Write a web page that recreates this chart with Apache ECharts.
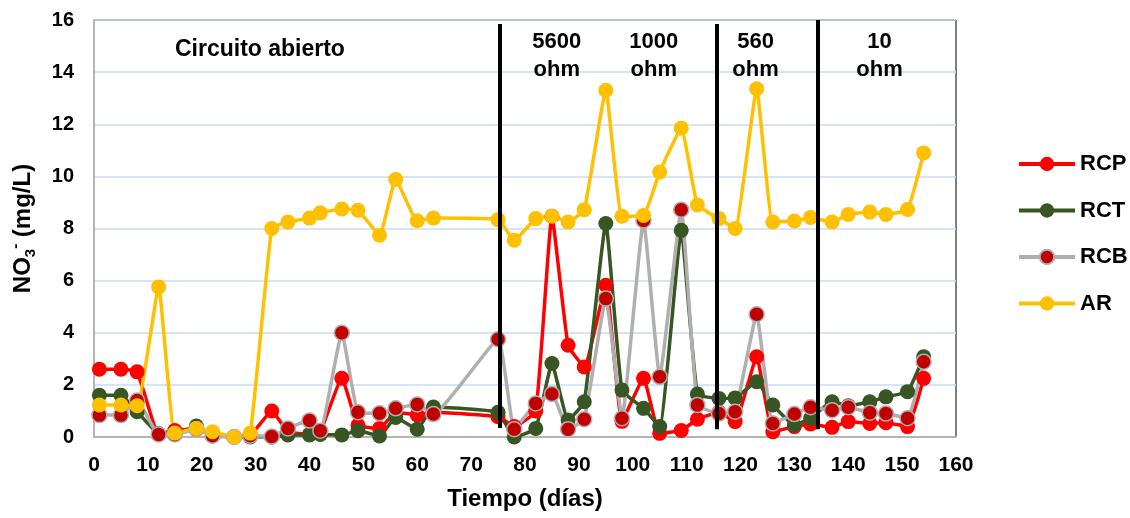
<!DOCTYPE html>
<html>
<head>
<meta charset="utf-8">
<script src="https://cdn.jsdelivr.net/npm/echarts@6/dist/echarts.min.js"></script>
<style>
html,body{margin:0;padding:0;background:#fff;}
#c{width:1130px;height:518px;}
</style>
</head>
<body>
<div id="c"></div>
<script>
// Days of sampling
const days = [1,5,8,12,15,19,22,26,29,33,36,40,42,46,49,53,56,60,63,75,78,82,85,88,91,95,98,102,105,109,112,116,119,123,126,130,133,137,140,144,147,151,154];
const RCP = [2.6,2.6,2.5,0.12,0.25,0.3,0.1,0.0,0.05,1.0,0.2,0.1,0.2,2.25,0.45,0.33,0.95,0.85,0.95,0.78,0.4,1.0,8.47,3.52,2.69,5.82,0.6,2.25,0.14,0.25,0.68,0.95,0.59,3.08,0.2,0.4,0.5,0.37,0.59,0.52,0.55,0.4,2.25];
const RCT = [1.6,1.6,0.97,0.12,0.1,0.42,0.05,0.0,0.0,0.0,0.08,0.08,0.1,0.08,0.24,0.04,0.75,0.3,1.15,0.95,0.0,0.33,2.82,0.65,1.35,8.19,1.8,1.1,0.4,7.93,1.65,1.48,1.5,2.12,1.23,0.46,0.72,1.35,1.2,1.35,1.54,1.74,3.08];
const RCB = [0.84,0.84,1.4,0.1,0.1,0.3,0.05,0.0,0.05,0.02,0.33,0.63,0.24,4.0,0.95,0.91,1.1,1.25,0.88,3.75,0.3,1.29,1.65,0.3,0.68,5.31,0.72,8.31,2.31,8.72,1.23,0.9,0.97,4.71,0.52,0.88,1.14,1.03,1.14,0.93,0.9,0.72,2.89];
const AR  = [1.23,1.23,1.2,5.76,0.15,0.33,0.2,0.0,0.15,8.0,8.25,8.4,8.6,8.75,8.7,7.74,9.88,8.3,8.4,8.34,7.55,8.38,8.47,8.25,8.72,13.3,8.47,8.5,10.17,11.85,8.9,8.38,8.0,13.36,8.25,8.29,8.42,8.25,8.54,8.63,8.54,8.73,10.9];
// Phase boundaries (days) and annotation labels
const boundaries = [75.3, 95.6, 115.5, 134.4];
const boundaryTop = [15.85, 15.95, 15.85, 16.0];
const boundaryBottom = [0.35, -0.1, 0.3, 0.3];
const phaseLabels = ["Circuito abierto", "5600\nohm", "1000\nohm", "560\nohm", "10\nohm"];
const phaseCenters = [30.8, 85.9, 103.9, 122.8, 145.8];

const FONT = '"Liberation Sans", Arial, sans-serif';
const pair = arr => days.map((d, i) => [d, arr[i]]);

const chart = echarts.init(document.getElementById('c'), null, {renderer: 'canvas'});

function mkSeries(name, data, lineColor, markerColor, borderColor) {
  return {
    name: name,
    type: 'line',
    data: pair(data),
    symbol: 'circle',
    symbolSize: 15,
    showSymbol: true,
    smooth: 0.12,
    lineStyle: {color: lineColor, width: 3.5},
    itemStyle: {color: markerColor, borderColor: borderColor, borderWidth: borderColor ? 1.5 : 0},
    emphasis: {disabled: true},
    z: 3
  };
}

const series = [
  mkSeries('RCP', RCP, '#ff0000', '#ff0000', null),
  mkSeries('RCT', RCT, '#375623', '#375623', null),
  mkSeries('RCB', RCB, '#afafaf', '#c00000', '#afafaf'),
  mkSeries('AR', AR, '#ffc000', '#ffc000', null)
];
series[3].markLine = {
  silent: true,
  symbol: ['none', 'none'],
  lineStyle: {color: '#000', width: 4, type: 'solid'},
  label: {show: false},
  data: boundaries.map((b, i) => [{coord: [b, boundaryBottom[i]]}, {coord: [b, boundaryTop[i]]}])
};

const option = {
  animation: false,
  backgroundColor: '#fff',
  grid: {left: 94, right: 174, top: 20, bottom: 81, show: true, borderColor: '#000', borderWidth: 1},
  legend: {
    orient: 'vertical',
    left: 1017,
    top: 152,
    padding: 0,
    itemWidth: 56,
    itemHeight: 18,
    itemGap: 22.5,
    lineStyle: {width: 4},
    textStyle: {fontFamily: FONT, fontWeight: 'bold', fontSize: 22, color: '#000', lineHeight: 24, padding: [0, 0, 0, 0]},
    data: ['RCP', 'RCT', 'RCB', 'AR']
  },
  xAxis: {
    type: 'value',
    min: 0, max: 160, interval: 10,
    name: 'Tiempo (días)',
    nameLocation: 'middle',
    nameGap: 50,
    nameTextStyle: {fontFamily: FONT, fontWeight: 'bold', fontSize: 24, color: '#000'},
    axisLine: {show: true, lineStyle: {color: '#b4b4b4', width: 2}},
    axisTick: {show: false},
    splitLine: {show: false},
    axisLabel: {fontFamily: FONT, fontWeight: 'bold', fontSize: 21, color: '#000', margin: 18}
  },
  yAxis: {
    type: 'value',
    min: 0, max: 16, interval: 2,
    name: '{b|NO}{sub|3}{sup|-}{b| (mg/L)}',
    nameLocation: 'middle',
    nameGap: 56,
    nameRotate: 90,
    nameTextStyle: {
      fontFamily: FONT, fontWeight: 'bold', fontSize: 24, color: '#000',
      rich: {
        b: {fontFamily: FONT, fontWeight: 'bold', fontSize: 24, color: '#000', lineHeight: 30, verticalAlign: 'middle'},
        sub: {fontFamily: FONT, fontWeight: 'bold', fontSize: 15, color: '#000', lineHeight: 30, verticalAlign: 'bottom'},
        sup: {fontFamily: FONT, fontWeight: 'bold', fontSize: 15, color: '#000', lineHeight: 30, verticalAlign: 'top'}
      }
    },
    axisLine: {show: true, lineStyle: {color: '#b4b4b4', width: 2}},
    axisTick: {show: false},
    splitLine: {show: true, lineStyle: {color: '#c9dcf2', width: 1.5}},
    axisLabel: {fontFamily: FONT, fontWeight: 'bold', fontSize: 20, color: '#000', margin: 20}
  },
  series: series
};
chart.setOption(option);

// Phase annotations, placed at data positions along the x axis
const graphics = phaseLabels.map((t, i) => {
  const px = chart.convertToPixel({gridIndex: 0}, [phaseCenters[i], 0])[0];
  const isFirst = i === 0;
  return {
    type: 'text',
    x: px,
    y: isFirst ? 36 : 28,
    z: 10,
    style: {
      text: t,
      fontFamily: FONT,
      fontWeight: 'bold',
      fontSize: isFirst ? 23 : 22,
      lineHeight: 28,
      fill: '#000',
      align: 'center',
      verticalAlign: 'top'
    }
  };
});
chart.setOption({graphic: graphics});
</script>
</body>
</html>
